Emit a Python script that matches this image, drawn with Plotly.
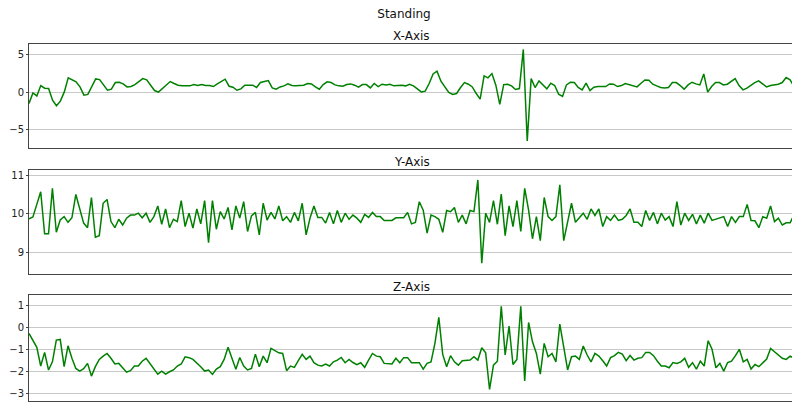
import plotly.graph_objs as go
from plotly.subplots import make_subplots

# accelerometer readings, one sample per step
x_axis = [-1.5, -0.1, -0.5, 0.88, 0.53, 0.48, -1.06, -1.8, -1.19, 0.04,
          1.9, 1.67, 1.37, 0.7, -0.4, -0.3, 0.84, 1.76, 1.67, 0.93,
          0.26, 0.4, 1.28, 1.32, 1.1, 0.7, 0.75, 1.01, 1.41, 1.8,
          1.63, 0.97, 0.22, 0.0, 0.48, 0.97, 1.41, 1.15, 0.93, 0.84,
          0.84, 0.84, 1.01, 0.88, 1.01, 0.88, 0.88, 0.75, 1.1, 1.45,
          1.72, 0.79, 0.66, 0.26, 0.44, 0.93, 0.88, 0.93, 0.62, 1.28,
          1.41, 1.54, 0.57, 0.4, 0.7, 0.84, 1.1, 0.88, 0.84, 0.93,
          0.93, 1.15, 1.1, 0.7, 0.4, 1.01, 1.37, 1.28, 0.97, 0.84,
          0.79, 1.01, 1.1, 0.93, 0.66, 1.01, 1.01, 0.57, 1.15, 0.75,
          1.06, 0.97, 1.06, 0.84, 0.93, 0.93, 0.84, 1.06, 0.84, 0.48,
          0.04, 0.13, 1.15, 2.42, 2.78, 1.45, 0.7, -0.04, -0.3, -0.18,
          0.62, 1.28, 1.06, 0.7, -0.18, -0.92, 2.16, 1.9, 2.47, 0.93,
          -1.63, 1.01, 1.06, 0.84, 0.35, 0.48, 5.68, -6.48, 1.8, 0.62,
          1.5, 0.97, 0.44, 1.19, 0.88, -0.26, -0.57, 0.97, 1.32, 1.28,
          0.62, 0.31, 1.19, 0.22, 0.66, 0.75, 0.75, 0.75, 1.1, 1.06,
          0.75, 0.88, 1.15, 0.97, 0.84, 0.7, 1.19, 1.63, 1.59, 1.06,
          0.84, 0.62, 0.57, 0.62, 1.28, 1.28, 0.88, 0.4, 0.97, 1.32,
          1.1, 0.97, 2.42, 0.0, 0.75, 1.28, 1.28, 0.97, 1.06, 1.45,
          1.8, 0.88, 0.31, 0.53, 0.97, 1.28, 1.5, 1.06, 0.7, 0.88,
          0.97, 1.06, 1.28, 1.94, 1.63, 0.75]

y_axis = [9.87, 9.92, 10.25, 10.58, 9.48, 9.48, 10.67, 9.52, 9.84, 9.93,
          9.78, 9.9, 10.51, 10.15, 9.76, 9.64, 10.43, 9.39, 9.43, 10.28,
          10.38, 9.8, 9.64, 9.86, 9.71, 9.89, 9.97, 9.97, 10.02, 9.9,
          10.02, 9.78, 9.93, 10.21, 9.73, 10.13, 9.64, 9.86, 9.8, 10.35,
          9.67, 10.02, 9.63, 10.13, 9.74, 10.35, 9.25, 10.35, 9.6, 10.06,
          9.87, 10.17, 9.58, 10.21, 9.89, 10.32, 9.54, 9.95, 10.04, 9.45,
          10.28, 9.84, 10.04, 9.87, 10.21, 9.82, 9.93, 9.78, 10.04, 9.82,
          10.28, 9.45, 9.89, 10.21, 9.91, 9.91, 9.76, 10.04, 9.74, 10.09,
          9.78, 10.02, 9.86, 9.97, 9.89, 9.78, 9.99, 9.91, 10.04, 9.93,
          9.93, 9.83, 9.83, 9.83, 9.9, 9.9, 9.9, 10.04, 9.74, 9.78,
          10.32, 10.1, 9.5, 9.97, 9.93, 9.86, 9.52, 10.09, 10.06, 10.17,
          9.78, 9.97, 9.74, 10.09, 10.06, 10.89, 8.71, 10.02, 9.78, 10.35,
          9.73, 10.52, 9.43, 10.21, 9.67, 10.35, 9.54, 10.67, 10.1, 9.35,
          9.93, 9.3, 10.43, 9.93, 9.83, 9.93, 10.76, 9.3, 9.84, 10.28,
          9.78, 9.89, 10.02, 9.86, 10.13, 9.96, 10.13, 9.67, 9.93, 9.83,
          9.97, 9.83, 9.86, 9.96, 10.13, 9.78, 9.78, 9.67, 10.09, 9.83,
          10.04, 9.74, 10.02, 9.84, 9.93, 9.67, 10.32, 9.71, 10.02, 9.83,
          9.99, 9.74, 9.97, 9.76, 10.02, 9.83, 9.86, 9.89, 9.93, 9.67,
          9.93, 9.78, 9.93, 9.93, 10.25, 9.83, 9.82, 9.64, 9.93, 9.89,
          10.21, 9.8, 9.89, 9.71, 9.77, 9.77, 9.97]

z_axis = [-0.26, -0.56, -0.89, -1.74, -1.12, -1.92, -1.55, -0.56, -0.53, -1.77,
          -0.82, -1.39, -1.85, -1.97, -1.86, -1.62, -2.2, -1.77, -1.44, -1.29,
          -1.17, -1.39, -1.65, -1.62, -1.8, -2.02, -1.95, -1.74, -1.74, -1.52,
          -1.39, -1.62, -1.89, -2.11, -1.97, -2.11, -2.0, -1.92, -1.74, -1.65,
          -1.32, -1.36, -1.44, -1.59, -1.77, -1.97, -1.92, -2.12, -1.88, -1.77,
          -1.44, -0.89, -1.39, -1.89, -1.35, -1.74, -1.92, -1.85, -1.2, -1.77,
          -1.29, -1.59, -0.94, -1.05, -1.14, -1.17, -1.95, -1.74, -1.8, -1.5,
          -1.21, -1.44, -1.29, -1.59, -1.7, -1.74, -1.65, -1.74, -1.55, -1.47,
          -1.35, -1.59, -1.44, -1.58, -1.68, -1.59, -1.8, -1.47, -1.17, -1.29,
          -1.32, -1.62, -1.62, -1.65, -1.39, -1.59, -1.36, -1.36, -1.59, -1.59,
          -1.59, -1.88, -1.62, -1.55, -0.71, 0.47, -1.21, -1.77, -1.27, -1.55,
          -1.7, -1.5, -1.5, -1.47, -1.32, -1.47, -0.91, -1.14, -2.8, -1.7,
          -1.52, 0.98, -1.24, 0.08, -1.67, -1.44, 0.98, -2.42, 0.24, -0.64,
          -1.17, -2.11, -0.71, -1.32, -1.17, -1.55, 0.17, -0.79, -1.92, -1.32,
          -1.29, -1.44, -0.83, -1.24, -1.55, -1.17, -1.29, -1.5, -1.74, -1.36,
          -1.27, -1.12, -1.2, -1.5, -1.26, -1.47, -1.39, -1.36, -1.12, -1.12,
          -1.27, -1.52, -1.74, -1.74, -1.82, -1.58, -1.62, -1.55, -1.39, -1.8,
          -1.59, -1.88, -1.52, -1.74, -0.59, -0.98, -1.82, -1.62, -1.97, -1.58,
          -1.52, -1.27, -0.98, -1.55, -1.44, -1.88, -1.67, -1.77, -1.58, -1.42,
          -0.94, -1.09, -1.2, -1.39, -1.44, -1.29, -1.39]

titles = ['X-Axis', 'Y-Axis', 'Z-Axis']
series = [x_axis, y_axis, z_axis]
y_ranges = [[-7.4, 6.4], [8.43, 11.15], [-3.33, 1.49]]
y_ticks = [[-5, 0, 5], [9, 10, 11], [-3, -2, -1, 0, 1]]
domains = [[0.709, 1.0], [0.356, 0.647], [0.0, 0.297]]

fig = make_subplots(rows=3, cols=1, subplot_titles=titles, vertical_spacing=0.06)

for i, vals in enumerate(series):
    fig.add_trace(go.Scatter(x=list(range(len(vals))), y=vals, mode='lines',
                             line=dict(color='green', width=1.5),
                             showlegend=False), row=i + 1, col=1)
    fig.update_xaxes(range=[0, len(vals) - 1], showticklabels=False,
                     showgrid=False, zeroline=False, showline=True,
                     mirror=True, linecolor='#444444', linewidth=1,
                     ticks='', domain=[0, 1], row=i + 1, col=1)
    fig.update_yaxes(range=y_ranges[i], tickvals=y_ticks[i],
                     showgrid=True, gridcolor='#c8c8c8', gridwidth=1,
                     zeroline=False, showline=True, mirror=True,
                     linecolor='#444444', linewidth=1, ticks='outside',
                     ticklen=2, tickcolor='#444444', automargin=False,
                     tickfont=dict(size=10, color='#222222'),
                     domain=domains[i], row=i + 1, col=1)

# move subplot titles to just above each panel
for ann, dom in zip(fig.layout.annotations, domains):
    ann.y = dom[1]
    ann.yshift = -1
    ann.font = dict(size=12, color='#111111')

# page body adds an 8px margin, so the figure is a bit smaller than the window
fig.update_layout(
    title=dict(text='Standing', x=0.5, xanchor='center', y=0.995,
               font=dict(size=12, color='#111111')),
    width=792, height=403,
    margin=dict(l=21, r=6, t=36, b=10),
    paper_bgcolor='white', plot_bgcolor='white',
    font=dict(family='DejaVu Sans'))

fig.write_html("out.html")
